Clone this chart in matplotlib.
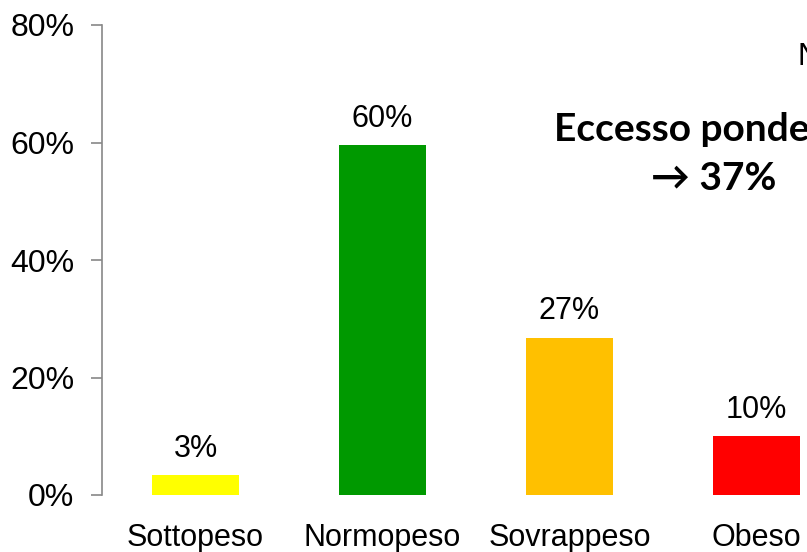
import matplotlib
matplotlib.use("Agg")
import matplotlib.pyplot as plt
from matplotlib.ticker import FuncFormatter

categories = ["Sottopeso", "Normopeso", "Sovrappeso", "Obeso"]
values = [3.4, 59.5, 26.8, 10.0]
value_labels = ["3%", "60%", "27%", "10%"]
bar_colors = ["#FFFF00", "#009900", "#FFC000", "#FF0000"]

plt.rcParams['font.family'] = ['Liberation Sans', 'DejaVu Sans']

fig = plt.figure(figsize=(8.07, 5.52), dpi=100)
# the original is cropped on the right, so the axes run past the figure edge
ax = fig.add_axes([102 / 807, 57 / 552, 748 / 807, 470 / 552])

x = range(len(categories))
rects = ax.bar(x, values, width=0.46, color=bar_colors)

for rect, lab in zip(rects, value_labels):
    ax.annotate(lab, xy=(rect.get_x() + rect.get_width() / 2, rect.get_height()),
                xytext=(0, 8), textcoords="offset points",
                ha='center', va='bottom', fontsize=22)

ax.set_xlim(-0.5, len(categories) - 0.5)
ax.set_ylim(0, 80)
ax.set_yticks([0, 20, 40, 60, 80])
ax.yaxis.set_major_formatter(FuncFormatter(lambda v, p: f"{v:.0f}%"))
ax.set_xticks(list(x))
ax.set_xticklabels(categories)

for s in ["top", "right", "bottom"]:
    ax.spines[s].set_visible(False)
ax.spines["left"].set_color("#888888")
ax.spines["left"].set_linewidth(1.2)
ax.tick_params(axis='y', direction='out', length=8, width=1.2, color="#888888",
               labelsize=23, pad=12)
ax.tick_params(axis='x', length=0, labelsize=22, pad=20)

fig.text(797 / 807, 1 - 57 / 552, "N", fontsize=22, ha='left', va='center')
fig.text(714 / 807, 1 - 154 / 552, "Eccesso ponderale\n\u2192 37%",
         fontsize=28, fontweight='bold', ha='center', va='center',
         family=['Lato', 'DejaVu Sans'], linespacing=1.45)

fig.savefig("out.png", dpi=100)
